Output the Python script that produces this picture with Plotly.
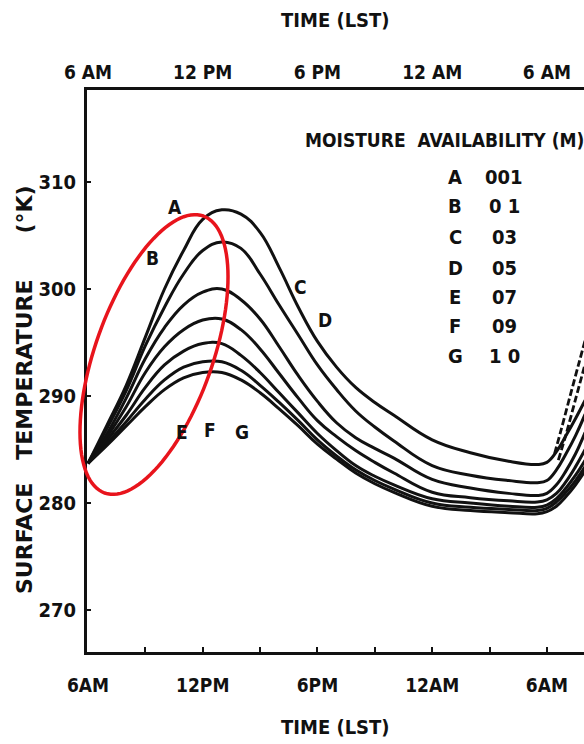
import numpy as np
import plotly.graph_objects as go

# ---------------- data ----------------
hours = [6, 7, 8, 9, 10, 11, 12, 13, 14, 15, 16, 17, 18, 19, 20, 21, 22, 24, 26, 28, 29.5, 30, 30.5, 31, 31.5, 32]

curve_A = [283.7, 287.3, 291.0, 295.5, 300.0, 303.6, 306.5, 307.4, 307.0, 305.3, 302.0, 298.3, 295.1, 292.7, 290.8, 289.4, 288.2, 285.9, 284.7, 283.9, 283.6, 283.8, 284.8, 286.3, 287.9, 289.6]
curve_B = [283.7, 287.0, 290.5, 294.7, 298.3, 301.4, 303.6, 304.4, 303.8, 301.4, 298.5, 295.7, 292.9, 290.6, 288.6, 287.1, 285.8, 283.5, 282.6, 282.1, 281.9, 282.1, 283.1, 284.6, 286.3, 288.3]
curve_C = [283.7, 286.5, 289.8, 293.5, 296.4, 298.5, 299.7, 300.0, 299.0, 297.2, 294.6, 291.9, 289.5, 287.5, 286.1, 285.1, 284.2, 282.2, 281.4, 280.9, 280.7, 280.9, 281.7, 283.0, 284.6, 286.6]
curve_D = [283.7, 286.2, 289.0, 292.2, 294.6, 296.2, 297.1, 297.2, 296.2, 294.4, 292.1, 289.8, 287.7, 286.2, 284.9, 283.8, 282.8, 281.0, 280.5, 280.2, 280.1, 280.3, 280.9, 282.0, 283.4, 285.0]
curve_E = [283.7, 285.9, 288.2, 290.8, 292.9, 294.2, 294.9, 294.9, 293.8, 292.2, 290.3, 288.4, 286.5, 284.9, 283.5, 282.5, 281.7, 280.4, 280.0, 279.7, 279.6, 279.8, 280.4, 281.4, 282.6, 284.0]
curve_F = [283.7, 285.6, 287.6, 289.7, 291.5, 292.7, 293.2, 293.2, 292.4, 291.0, 289.4, 287.7, 285.9, 284.4, 283.1, 282.1, 281.3, 280.0, 279.6, 279.4, 279.3, 279.5, 280.1, 281.0, 282.1, 283.4]
curve_G = [283.7, 285.4, 287.2, 289.0, 290.6, 291.7, 292.2, 292.2, 291.5, 290.3, 288.8, 287.2, 285.5, 284.1, 282.8, 281.8, 281.0, 279.7, 279.3, 279.1, 279.0, 279.2, 279.7, 280.6, 281.7, 283.0]

# two dashed branches rising steeply after sunrise (right edge)
dash1_hours = [30.4, 30.74, 31.2, 31.68, 32.0]
dash1_temps = [284.6, 286.8, 289.9, 293.1, 295.2]
dash2_hours = [30.6, 31.0, 31.5, 32.0]
dash2_temps = [284.0, 286.4, 289.7, 293.0]

series_names = ["A", "B", "C", "D", "E", "F", "G"]
series_values = [curve_A, curve_B, curve_C, curve_D, curve_E, curve_F, curve_G]
moisture_labels = ["001", "0 1", "03", "05", "07", "09", "1 0"]

# curve letter labels placed in the plot (hour, temperature)
label_hours = [10.55, 9.35, 17.1, 18.4, 10.92, 12.38, 14.05]
label_temps = [307.7, 302.9, 300.2, 297.1, 286.6, 286.8, 286.6]

bottom_tick_vals = [6, 12, 18, 24, 30]
bottom_tick_text = ["6AM", "12PM", "6PM", "12AM", "6AM"]
top_tick_text = ["6 AM", "12 PM", "6 PM", "12 AM", "6 AM"]
y_tick_vals = [270, 280, 290, 300, 310]

# ---------------- layout geometry ----------------
W, H = 584, 744
L, R, T, B = 87, 0, 90, 92
PW, PH = W - L - R, H - T - B
PX_PER_H = 19.12
PX_PER_K = 10.7
x_lo = 6 - 1 / PX_PER_H
x_hi = x_lo + PW / PX_PER_H
y_hi = 310 + (182 - T) / PX_PER_K
y_lo = 270 - ((H - B) - 610) / PX_PER_K


def pxx(x):
    return (x - L) / PW


def pxy(y):
    return 1 - (y - T) / PH


FONT = "DejaVu Sans Condensed, Liberation Sans Narrow, sans-serif"
INK = "#111111"


def f(size, family=FONT):
    return dict(family=family, size=size, color=INK, weight="bold")


fig = go.Figure()
for name, vals in zip(series_names, series_values):
    fig.add_trace(go.Scatter(
        x=hours, y=vals, mode="lines", name=name,
        line=dict(color=INK, width=3.0, shape="spline", smoothing=1.2),
        showlegend=False, hoverinfo="skip"))

for hx, ty in [(dash1_hours, dash1_temps), (dash2_hours, dash2_temps)]:
    fig.add_trace(go.Scatter(
        x=hx, y=ty, mode="lines",
        line=dict(color=INK, width=2.8, dash="7px,3px", shape="spline"),
        showlegend=False, hoverinfo="skip"))

# invisible trace to activate the top axis
fig.add_trace(go.Scatter(x=[x_lo], y=[y_lo], xaxis="x2", mode="markers",
                         marker=dict(opacity=0), showlegend=False, hoverinfo="skip"))

# curve letters
for name, hx, ty in zip(series_names, label_hours, label_temps):
    fig.add_annotation(x=hx, y=ty, text=name, showarrow=False,
                       xanchor="center", yanchor="middle", font=f(19))

# legend block
fig.add_annotation(xref="paper", yref="paper", x=pxx(444), y=pxy(140),
                   text="MOISTURE  AVAILABILITY (M)", showarrow=False,
                   xanchor="center", yanchor="middle", font=f(19))
row_y = [177, 206, 237, 268, 297, 326, 356]
for name, m, ry in zip(series_names, moisture_labels, row_y):
    fig.add_annotation(xref="paper", yref="paper", x=pxx(455), y=pxy(ry),
                       text=name, showarrow=False, xanchor="center", yanchor="middle",
                       font=f(20))
    fig.add_annotation(xref="paper", yref="paper", x=pxx(504), y=pxy(ry),
                       text=m, showarrow=False, xanchor="center", yanchor="middle",
                       font=f(20))

# axis titles
fig.add_annotation(xref="paper", yref="paper", x=pxx(335), y=pxy(20),
                   text="TIME (LST)", showarrow=False, xanchor="center", yanchor="middle",
                   font=f(20))
fig.add_annotation(xref="paper", yref="paper", x=pxx(335), y=pxy(727),
                   text="TIME (LST)", showarrow=False, xanchor="center", yanchor="middle",
                   font=f(20))
fig.add_annotation(xref="paper", yref="paper", x=pxx(25), y=pxy(390),
                   text="SURFACE   TEMPERATURE      (°K)", textangle=-90, showarrow=False,
                   xanchor="center", yanchor="middle",
                   font=f(22, "DejaVu Sans, sans-serif"))

# red ellipse highlight (pixel geometry converted to paper space)
cx, cy, a, b, th = 154, 354.5, 147, 58.6, np.deg2rad(19.6)
t = np.linspace(0, 2 * np.pi, 121)
ux, uy = np.sin(th), -np.cos(th)
vx, vy = np.cos(th), np.sin(th)
px = cx + a * np.cos(t) * ux + b * np.sin(t) * vx
py = cy + a * np.cos(t) * uy + b * np.sin(t) * vy
path = "M " + " L ".join(f"{pxx(xx):.5f},{pxy(yy):.5f}" for xx, yy in zip(px, py)) + " Z"
fig.add_shape(type="path", path=path, xref="paper", yref="paper",
              line=dict(color="#e8141c", width=3.5), fillcolor="rgba(0,0,0,0)")

fig.update_layout(
    width=W, height=H,
    margin=dict(l=L, r=R, t=T, b=B, autoexpand=False),
    paper_bgcolor="white", plot_bgcolor="white",
    font=dict(family=FONT, color=INK),
    xaxis=dict(range=[x_lo, x_hi], tickvals=bottom_tick_vals, ticktext=bottom_tick_text,
               ticks="inside", ticklen=5, tickwidth=1.5, tickcolor=INK,
               minor=dict(dtick=3, tick0=0, ticks="inside", ticklen=5, tickwidth=1.5, tickcolor=INK),
               showline=True, linewidth=3, linecolor=INK, mirror=True,
               showgrid=False, zeroline=False, automargin=False,
               tickfont=f(19), ticklabelstandoff=14),
    xaxis2=dict(range=[x_lo, x_hi], overlaying="x", side="top", anchor="y",
                tickvals=bottom_tick_vals, ticktext=top_tick_text, ticks="",
                showline=False, showgrid=False, zeroline=False, automargin=False,
                tickfont=f(19), ticklabelstandoff=6),
    yaxis=dict(range=[y_lo, y_hi], tickvals=y_tick_vals,
               ticks="inside", ticklen=4, tickwidth=1.5, tickcolor=INK,
               showline=True, linewidth=3, linecolor=INK,
               showgrid=False, zeroline=False, automargin=False,
               tickfont=f(20), ticklabelstandoff=4),
)

fig.write_html("out.html", config={"displayModeBar": False},
               post_script="document.body.style.margin='0';document.body.style.overflow='hidden';")
